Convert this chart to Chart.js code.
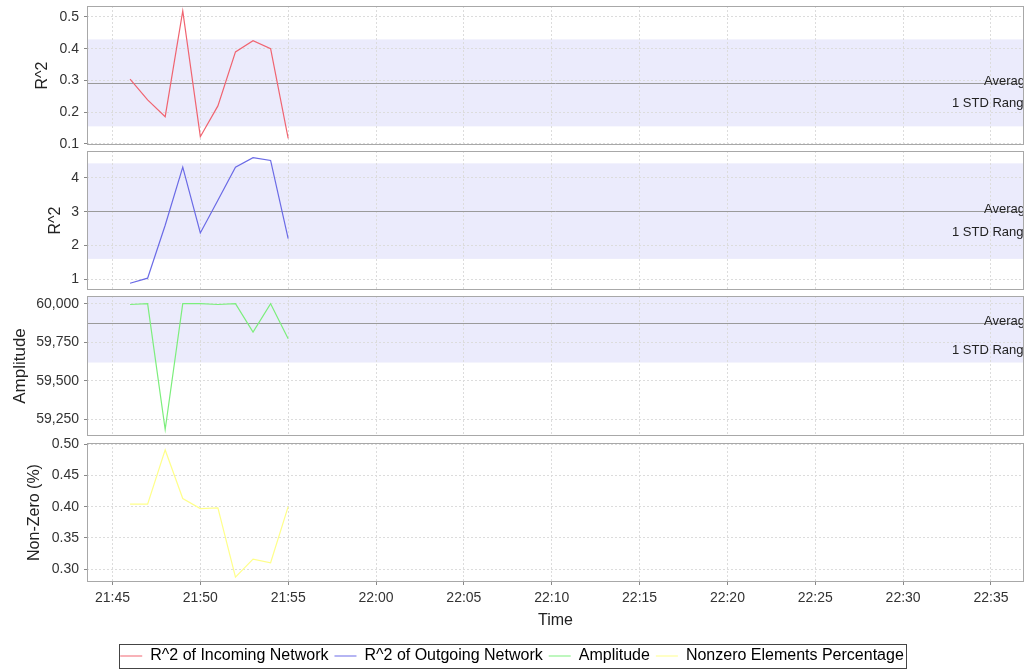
<!DOCTYPE html>
<html>
<head>
<meta charset="utf-8">
<title>Network correlation monitor</title>
<script src="https://cdn.jsdelivr.net/npm/chart.js@4.4.1/dist/chart.umd.min.js"></script>
<style>
  html, body { margin: 0; padding: 0; background: #fff; overflow: hidden; }
  #wrap { position: relative; width: 1024px; height: 670px; overflow: hidden; }
  #wrap canvas { position: absolute; left: 0; top: 0; }
</style>
</head>
<body>
<div id="wrap">
  <canvas id="c1" width="1024" height="670"></canvas>
  <canvas id="c2" width="1024" height="670"></canvas>
  <canvas id="c3" width="1024" height="670"></canvas>
  <canvas id="c4" width="1024" height="674"></canvas>
</div>
<script>
// sample times (one per minute)
const times = ['21:46', '21:47', '21:48', '21:49', '21:50', '21:51', '21:52', '21:53', '21:54', '21:55'];

// series values
const incoming = [0.304, 0.239, 0.186, 0.519, 0.123, 0.220, 0.390, 0.425, 0.400, 0.118];
const outgoing = [0.88, 1.03, 2.60, 4.32, 2.37, 3.34, 4.32, 4.60, 4.52, 2.20];
const amplitude = [59995, 60000, 59185, 60000, 60000, 59995, 60000, 59816, 60000, 59773];
const nonzero = [0.404, 0.404, 0.491, 0.413, 0.397, 0.398, 0.287, 0.316, 0.310, 0.400];

// tick labels
const timeTicks = ['21:45', '21:50', '21:55', '22:00', '22:05', '22:10', '22:15', '22:20', '22:25', '22:30', '22:35'];
const incomingTicks = [0.1, 0.2, 0.3, 0.4, 0.5];
const outgoingTicks = [1, 2, 3, 4];
const amplitudeTicks = [59250, 59500, 59750, 60000];
const nonzeroTicks = [0.30, 0.35, 0.40, 0.45, 0.50];

const seriesNames = ['R^2 of Incoming Network', 'R^2 of Outgoing Network', 'Amplitude', 'Nonzero Elements Percentage'];
const seriesColors = ['#f06470', '#6a6ae6', '#7cee7c', '#ffff8a'];

const FONT = 'Liberation Sans, Arial, sans-serif';
const GRID = '#dcdcdc';
const OUTLINE = '#a8a8a8';
const BAND = 'rgb(235,235,252)';
const AVG = '#9a9a9a';

Chart.defaults.font.family = FONT;
Chart.defaults.color = '#333';

function toMinutes(t) {
    const [h, m] = t.split(':').map(Number);
    return h * 60 + m;
}
function fmtTime(v) {
    const h = Math.floor(v / 60), m = Math.round(v % 60);
    return h + ':' + String(m).padStart(2, '0');
}
function mean(a) { return a.reduce((s, v) => s + v, 0) / a.length; }
function stdev(a) {
    const m = mean(a);
    return Math.sqrt(a.reduce((s, v) => s + (v - m) * (v - m), 0) / (a.length - 1));
}

const X_MIN = toMinutes('21:43') + 0.55;
const X_MAX = toMinutes('22:36') + 0.88;

// average line + 1 std band, with the marker labels
function bandPlugin(values) {
    const m = mean(values), sd = stdev(values);
    const bandEdges = (chart) => {
        const { chartArea: a, scales: { y } } = chart;
        return [Math.max(y.getPixelForValue(m + sd), a.top), Math.min(y.getPixelForValue(m - sd), a.bottom)];
    };
    return {
        id: 'band',
        beforeDraw(chart) {
            const { ctx, chartArea: a } = chart;
            const [yTop, yBot] = bandEdges(chart);
            ctx.save();
            ctx.fillStyle = BAND;
            ctx.fillRect(a.left, yTop, a.right - a.left, yBot - yTop);
            ctx.restore();
        },
        beforeDatasetsDraw(chart) {
            const { ctx, chartArea: a, scales: { y } } = chart;
            const [yTop, yBot] = bandEdges(chart);
            const ym = Math.round(y.getPixelForValue(m)) + 0.5;
            ctx.save();
            ctx.strokeStyle = AVG;
            ctx.lineWidth = 1;
            ctx.beginPath();
            ctx.moveTo(a.left, ym);
            ctx.lineTo(a.right, ym);
            ctx.stroke();
            ctx.fillStyle = '#222';
            ctx.font = '13px ' + FONT;
            ctx.textAlign = 'left';
            ctx.textBaseline = 'middle';
            ctx.fillText('Average', a.right - 40, ym - 2);
            ctx.fillText('1 STD Range', a.right - 72, (yTop + yBot) / 2 + 21);
            ctx.restore();
        }
    };
}

// plot outline and legend frame
const outlinePlugin = {
    id: 'outline',
    afterDraw(chart) {
        const { ctx, chartArea: a } = chart;
        ctx.save();
        ctx.strokeStyle = OUTLINE;
        ctx.lineWidth = 1;
        ctx.strokeRect(Math.round(a.left) + 0.5, Math.round(a.top) + 0.5,
            Math.round(a.right - a.left) - 1, Math.round(a.bottom - a.top) - 1);
        const lg = chart.legend;
        if (lg && lg.options.display && lg.legendHitBoxes && lg.legendHitBoxes.length) {
            const hb = lg.legendHitBoxes;
            const l = Math.min(...hb.map(b => b.left)) - 1;
            const r = Math.max(...hb.map(b => b.left + b.width)) + 2;
            const t = Math.min(...hb.map(b => b.top)) - 4;
            const btm = Math.max(...hb.map(b => b.top + b.height)) + 4;
            ctx.strokeStyle = '#444';
            ctx.strokeRect(Math.round(l) + 0.5, Math.round(t) + 0.5, Math.round(r - l), Math.round(btm - t));
        }
        ctx.restore();
    }
};

function makePanel(id, p) {
    const canvas = document.getElementById(id);
    const shift = p.shift || 0;
    canvas.style.top = (-shift) + 'px';
    const plugins = [outlinePlugin];
    if (p.band) plugins.unshift(bandPlugin(p.values));

    return new Chart(canvas, {
        type: 'line',
        data: {
            datasets: [{
                label: p.name,
                data: times.map((t, i) => ({ x: toMinutes(t), y: p.values[i] })),
                borderColor: p.color,
                borderWidth: 1.2,
                pointRadius: 0,
                tension: 0,
                fill: false
            }]
        },
        options: {
            responsive: false,
            animation: false,
            events: [],
            layout: {
                padding: {
                    top: p.top + shift,
                    bottom: p.last ? 0 : canvas.height - p.bottom - shift,
                    left: 0, right: 0
                }
            },
            plugins: {
                tooltip: { enabled: false },
                legend: {
                    display: !!p.last,
                    position: 'bottom',
                    labels: {
                        boxWidth: 22,
                        boxHeight: 1,
                        padding: 6,
                        color: '#111',
                        font: { size: 16 },
                        generateLabels: () => seriesNames.map((n, i) => ({
                            text: n, fillStyle: seriesColors[i], strokeStyle: seriesColors[i],
                            lineWidth: 0, hidden: false, datasetIndex: 0
                        }))
                    }
                }
            },
            scales: {
                x: {
                    type: 'linear',
                    min: X_MIN,
                    max: X_MAX,
                    afterBuildTicks: s => { s.ticks = timeTicks.map(t => ({ value: toMinutes(t) })); },
                    afterFit: s => { s.height = p.last ? 60 : 0; },
                    ticks: {
                        display: !!p.last,
                        maxRotation: 0,
                        padding: 5,
                        color: '#333',
                        font: { size: 14 },
                        callback: v => fmtTime(v)
                    },
                    grid: { color: GRID, drawTicks: !!p.last, tickLength: 3, tickColor: '#888' },
                    border: { display: false, dash: [2, 2] },
                    title: {
                        display: !!p.last,
                        text: 'Time',
                        color: '#222',
                        font: { size: 16 },
                        padding: { top: 0, bottom: 12 }
                    }
                },
                y: {
                    min: p.min,
                    max: p.max,
                    afterBuildTicks: s => { s.ticks = p.ticks.map(v => ({ value: v })); },
                    afterFit: s => { s.width = 87; },
                    ticks: { padding: 5, color: '#333', font: { size: 14 }, callback: p.fmt },
                    grid: { color: GRID, drawTicks: true, tickLength: 3, tickColor: '#888' },
                    border: { display: false, dash: [2, 2] },
                    title: {
                        display: true,
                        text: p.yTitle,
                        color: '#222',
                        font: { size: p.titleSize || 16 },
                        padding: { top: p.titlePad, bottom: 0 }
                    }
                }
            }
        },
        plugins: plugins
    });
}

makePanel('c1', {
    name: seriesNames[0], values: incoming, color: seriesColors[0], band: true, shift: 20,
    top: 6, bottom: 145, min: 0.0968, max: 0.5346, ticks: incomingTicks,
    fmt: v => v.toFixed(1), yTitle: 'R^2', titlePad: 33
});
makePanel('c2', {
    name: seriesNames[1], values: outgoing, color: seriesColors[1], band: true,
    top: 151, bottom: 290, min: 0.68, max: 4.80, ticks: outgoingTicks,
    fmt: v => String(v), yTitle: 'R^2', titlePad: 46
});
makePanel('c3', {
    name: seriesNames[2], values: amplitude, color: seriesColors[2], band: true,
    top: 296, bottom: 436, min: 59143, max: 60050, ticks: amplitudeTicks,
    fmt: v => v.toLocaleString('en-US'), yTitle: 'Amplitude', titlePad: 10, titleSize: 17
});
makePanel('c4', {
    name: seriesNames[3], values: nonzero, color: seriesColors[3], band: false, last: true,
    top: 443, bottom: 582, min: 0.2792, max: 0.5021, ticks: nonzeroTicks,
    fmt: v => v.toFixed(2), yTitle: 'Non-Zero (%)', titlePad: 25
});
</script>
</body>
</html>
